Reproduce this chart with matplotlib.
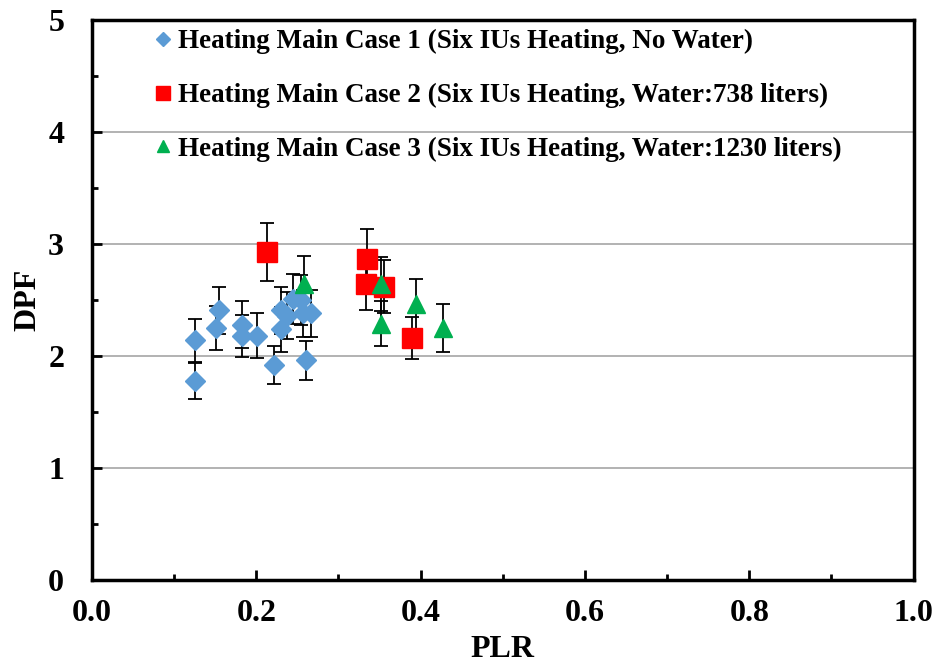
import matplotlib.pyplot as plt
from matplotlib.ticker import MultipleLocator


# Case 1: six IUs heating, no water
plr_case1 = [0.125, 0.125, 0.155, 0.151, 0.183, 0.183, 0.201, 0.221, 0.230,
             0.237, 0.230, 0.245, 0.254, 0.257, 0.267, 0.260]
dpf_case1 = [2.14, 1.78, 2.41, 2.25, 2.28, 2.18, 2.18, 1.92, 2.41,
             2.36, 2.24, 2.51, 2.50, 2.38, 2.38, 1.96]
err_case1 = [0.19, 0.16, 0.21, 0.20, 0.21, 0.19, 0.20, 0.17, 0.21,
             0.21, 0.20, 0.22, 0.22, 0.21, 0.21, 0.17]

# Case 2: water 738 liters
plr_case2 = [0.213, 0.335, 0.333, 0.355, 0.390]
dpf_case2 = [2.93, 2.87, 2.64, 2.62, 2.16]
err_case2 = [0.26, 0.26, 0.23, 0.24, 0.19]

# Case 3: water 1230 liters
plr_case3 = [0.258, 0.352, 0.352, 0.394, 0.427]
dpf_case3 = [2.64, 2.64, 2.29, 2.46, 2.25]
err_case3 = [0.25, 0.24, 0.20, 0.23, 0.21]

labels = ["Heating Main Case 1 (Six IUs Heating, No Water)",
          "Heating Main Case 2 (Six IUs Heating, Water:738 liters)",
          "Heating Main Case 3 (Six IUs Heating, Water:1230 liters)"]


plt.rcParams['font.family'] = ['Liberation Serif', 'DejaVu Serif']
plt.rcParams['font.weight'] = 'bold'

fig = plt.figure(figsize=(9.38, 6.67), dpi=100)
ax = fig.add_axes([0.098, 0.1304, 0.876, 0.8396])

err_style = dict(ecolor='black', elinewidth=1.3, capsize=5, capthick=1.3,
                 linestyle='none')

ax.errorbar(plr_case1, dpf_case1, yerr=err_case1, marker='D', ms=10,
            color='#5B9BD5', label=labels[0], **err_style)
ax.errorbar(plr_case2, dpf_case2, yerr=err_case2, marker='s', ms=14,
            color='#FF0000', label=labels[1], **err_style)
ax.errorbar(plr_case3, dpf_case3, yerr=err_case3, marker='^', ms=12.5,
            color='#00B050', label=labels[2], **err_style)

ax.set_xlim(0, 1)
ax.set_ylim(0, 5)
ax.xaxis.set_major_locator(MultipleLocator(0.2))
ax.xaxis.set_minor_locator(MultipleLocator(0.1))
ax.yaxis.set_major_locator(MultipleLocator(1))
ax.yaxis.set_minor_locator(MultipleLocator(0.5))
ax.xaxis.set_major_formatter(plt.FuncFormatter(lambda v, p: "{:.1f}".format(v)))
ax.yaxis.set_major_formatter(plt.FuncFormatter(lambda v, p: "{:.0f}".format(v)))

ax.grid(axis='y', which='major', color='#A6A6A6', linewidth=1.2)
ax.set_axisbelow(True)

for side in ['left', 'right', 'top', 'bottom']:
    ax.spines[side].set_linewidth(2.5)

ax.tick_params(which='both', direction='in', width=2)
ax.tick_params(which='major', length=7, labelsize=23)
ax.tick_params(which='minor', length=4.5)
ax.tick_params(axis='x', pad=14)
ax.tick_params(axis='y', pad=20)

ax.set_xlabel("PLR", fontsize=23, fontweight='bold', labelpad=5)
ax.set_ylabel("DPF", fontsize=23, fontweight='bold', labelpad=4)

# error bars are left out of the legend handles
handles, _ = ax.get_legend_handles_labels()
handles = [h[0] for h in handles]
ax.legend(handles, labels, loc='upper left', bbox_to_anchor=(0.045, 1.027),
          frameon=False, prop={'weight': 'bold', 'size': 19.5},
          handlelength=0.7, handletextpad=0.2, labelspacing=1.05,
          markerscale=0.72)

plt.savefig('out.png', dpi=100)
